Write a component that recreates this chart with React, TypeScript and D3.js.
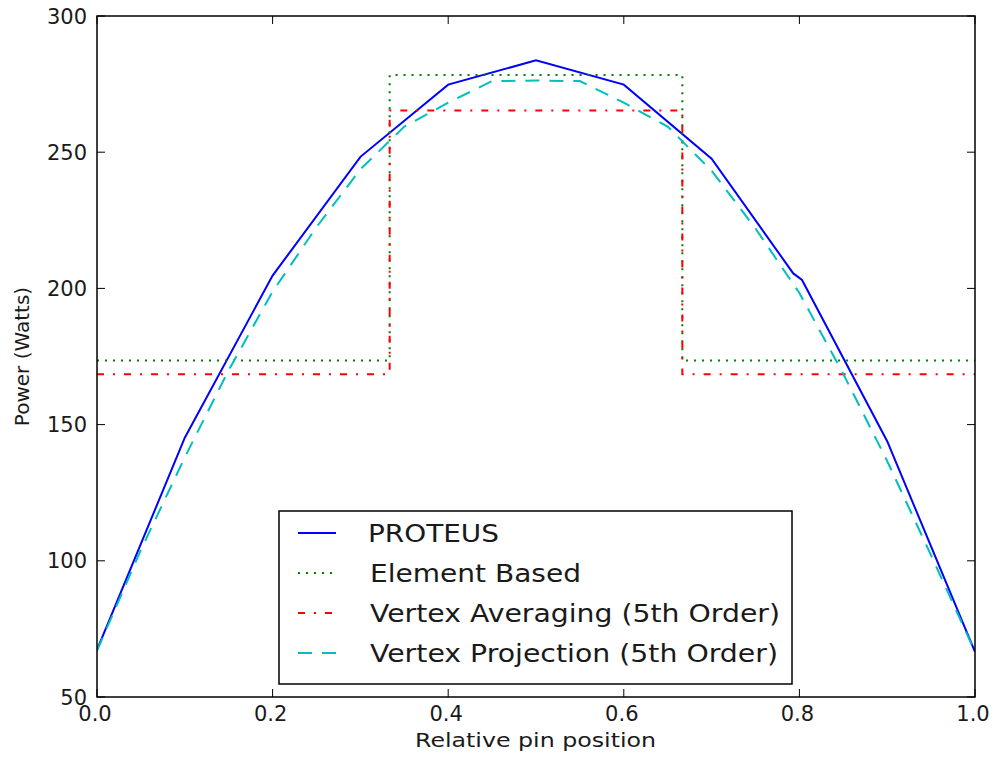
import React from "react";
import * as d3 from "d3";

// PROTEUS reference solution
const proteusX = [0, 0.1, 0.2, 0.3, 0.4, 0.5, 0.6, 0.7, 0.793, 0.803, 0.9, 1.0];
const proteusY = [67.3, 145.2, 204.7, 248.3, 274.8, 283.7, 274.8, 247.6, 205.5, 203.1, 143.9, 66.6];

// Element based (piecewise constant)
const elementX = [0, 1 / 3, 1 / 3, 2 / 3, 2 / 3, 1];
const elementY = [173.5, 173.5, 278.3, 278.3, 173.5, 173.5];

// Vertex averaging (5th order)
const averagingX = [0, 1 / 3, 1 / 3, 2 / 3, 2 / 3, 1];
const averagingY = [168.5, 168.5, 265.3, 265.3, 168.5, 168.5];

// Vertex projection (5th order)
const projectionX = [0, 0.05, 0.1, 0.15, 0.2, 0.25, 0.3, 0.35, 0.4, 0.45, 0.5, 0.55, 0.6, 0.65, 0.7, 0.75, 0.8, 0.85, 0.9, 0.95, 1.0];
const projectionY = [67, 104, 138, 170, 198.8, 222.5, 243.7, 259.4, 268.2, 276.1, 276.3, 276.1, 268.2, 259.4, 243.2, 222, 198.3, 168.6, 136.6, 102, 66.6];

const xTicks = [0, 0.2, 0.4, 0.6, 0.8, 1.0];
const yTicks = [50, 100, 150, 200, 250, 300];

const legendLabels = ["PROTEUS", "Element Based", "Vertex Averaging (5th Order)", "Vertex Projection (5th Order)"];
// rendered widths of the legend labels (old hinted text runs wide)
const legendWidths = [131, 211, 410, 408];

const W = 995;
const H = 757;
const margin = { left: 97, right: 20, top: 16, bottom: 60 };
const font = "'DejaVu Sans', sans-serif";

const series = [
  { xs: proteusX, ys: proteusY, color: "#0000ff", dash: undefined as string | undefined },
  { xs: elementX, ys: elementY, color: "#008000", dash: "2 6" },
  { xs: averagingX, ys: averagingY, color: "#ff0000", dash: "7 9 2 9" },
  { xs: projectionX, ys: projectionY, color: "#00bfbf", dash: "14 10" },
];

const App = () => {
  const x = d3.scaleLinear().domain([0, 1]).range([margin.left, W - margin.right]);
  const y = d3.scaleLinear().domain([50, 300]).range([H - margin.bottom, margin.top]);
  const [x0, x1] = x.range();
  const [y0, y1] = y.range();

  const line = d3
    .line<[number, number]>()
    .x((d) => x(d[0]))
    .y((d) => y(d[1]));

  const legend = { x: 279, y: 511, w: 513, h: 173 };

  return (
    <svg
      width={W}
      height={H}
      style={{ position: "absolute", left: 0, top: 0, background: "#fff" }}
      fontFamily={font}
    >
      <defs>
        <clipPath id="plot">
          <rect x={x0} y={y1} width={x1 - x0} height={y0 - y1} />
        </clipPath>
      </defs>

      <g clipPath="url(#plot)">
        {series.map((s, i) => (
          <path
            key={i}
            d={line(s.xs.map((v, j) => [v, s.ys[j]] as [number, number])) || ""}
            fill="none"
            stroke={s.color}
            strokeWidth={2}
            strokeDasharray={s.dash}
          />
        ))}
      </g>

      {/* ticks, inside, on all four sides */}
      {xTicks.map((t) => (
        <g key={"x" + t}>
          <line x1={x(t)} x2={x(t)} y1={y0} y2={y0 - 8} stroke="#000" />
          <line x1={x(t)} x2={x(t)} y1={y1} y2={y1 + 8} stroke="#000" />
          <text x={x(t) - 2} y={y0 + 24} textAnchor="middle" fontSize={21} fill="#1a1a1a">
            {t.toFixed(1)}
          </text>
        </g>
      ))}
      {yTicks.map((t) => (
        <g key={"y" + t}>
          <line x1={x0} x2={x0 + 8} y1={y(t)} y2={y(t)} stroke="#000" />
          <line x1={x1} x2={x1 - 8} y1={y(t)} y2={y(t)} stroke="#000" />
          <text x={x0 - 10} y={y(t)} dy="0.36em" textAnchor="end" fontSize={21} fill="#1a1a1a">
            {t}
          </text>
        </g>
      ))}

      <rect x={x0} y={y1} width={x1 - x0} height={y0 - y1} fill="none" stroke="#000" strokeWidth={1.5} />

      <text
        x={415}
        y={747}
        fontSize={20}
        fill="#1a1a1a"
        textLength={241}
        lengthAdjust="spacingAndGlyphs"
      >
        Relative pin position
      </text>
      <text
        transform={`translate(29, ${(y0 + y1) / 2}) rotate(-90)`}
        textAnchor="middle"
        fontSize={20}
        fill="#1a1a1a"
      >
        Power (Watts)
      </text>

      {/* legend */}
      <rect x={legend.x} y={legend.y} width={legend.w} height={legend.h} fill="#fff" stroke="#000" strokeWidth={1.5} />
      {legendLabels.map((label, i) => {
        const cy = 533 + i * 40;
        const s = series[i];
        return (
          <g key={label}>
            <line
              x1={298}
              x2={336}
              y1={cy}
              y2={cy}
              stroke={s.color}
              strokeWidth={2}
              strokeDasharray={s.dash}
            />
            <text
              x={i === 0 ? 368 : 370}
              y={cy}
              dy="0.36em"
              fontSize={25}
              fill="#1a1a1a"
              textLength={legendWidths[i]}
              lengthAdjust="spacingAndGlyphs"
            >
              {label}
            </text>
          </g>
        );
      })}
    </svg>
  );
};

export default App;
